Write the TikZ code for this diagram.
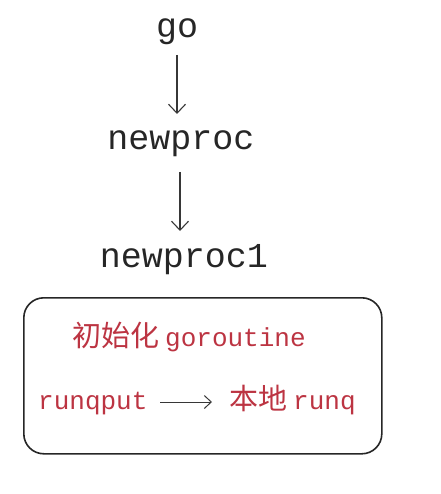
\documentclass[tikz,border=0pt]{standalone}
\usepackage{fontspec}
\setmonofont{Liberation Mono}
\newfontfamily\cjk{Noto Sans CJK SC}
\usetikzlibrary{arrows.meta}
\definecolor{redtxt}{RGB}{188,52,66}
\definecolor{linegray}{RGB}{55,55,55}
\newcommand{\zh}[1]{{\fontsize{29}{30}\selectfont\cjk #1}\hspace{6pt}}
\tikzset{
  bigtxt/.style={font=\fontsize{35}{37}\selectfont\ttfamily, text=black!85, inner sep=0pt, anchor=base},
  redlbl/.style={font=\fontsize{26}{28}\selectfont\ttfamily, text=redtxt, inner sep=0pt, anchor=base west},
  flow/.style={draw=linegray, line width=1.1pt, -{Straight Barb[length=9pt,width=17pt]}},
  panel/.style={draw=black!85, line width=1.6pt, rounded corners=20pt}
}
\begin{document}
\begin{tikzpicture}[x=1pt,y=-1pt]
\useasboundingbox (0,0) rectangle (440,494);
\node[bigtxt] (go) at (177,38) {go};
\node[bigtxt] (np) at (181,150) {newproc};
\node[bigtxt] (np1) at (184,267) {newproc1};
\coordinate (a1s) at (177,55);
\coordinate (a1e) at (177,114);
\coordinate (a2s) at (180,172);
\coordinate (a2e) at (180,231);
\draw[flow] (a1s) -- (a1e);
\draw[flow] (a2s) -- (a2e);
\node[panel, minimum width=358pt, minimum height=156pt, anchor=north west] (box) at (23,297) {};
\node[redlbl] (init) at (72,346) {\zh{初始化}goroutine};
\node[redlbl] (rq) at (38,409) {runqput};
\node[redlbl] (loc) at (229,409) {\zh{本地}runq};
\coordinate (b1s) at (160,402);
\coordinate (b1e) at (212,402);
\draw[flow, line width=1pt, -{Straight Barb[length=7pt,width=13pt]}] (b1s) -- (b1e);
\end{tikzpicture}
\end{document}
